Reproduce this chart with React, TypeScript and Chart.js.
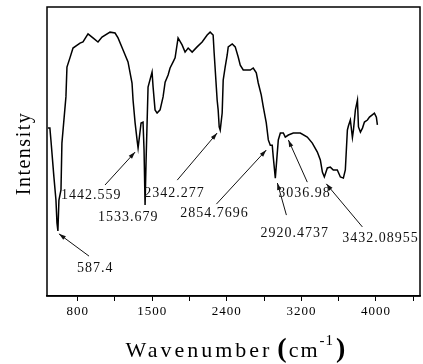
import React, { useEffect, useRef } from "react";
import { Chart, registerables } from "chart.js";
Chart.register(...registerables);

const WAVENUMBER = [481,502,513,545,567,578,588,599,621,631,674,685,717,750,825,857,911,964,1018,1061,1147,1201,1233,1287,1340,1383,1394,1416,1437,1448,1480,1501,1512,1523,1534,1555,1598,1609,1630,1652,1684,1716,1738,1770,1791,1824,1845,1877,1920,1952,1985,2028,2081,2135,2189,2221,2253,2264,2296,2307,2318,2329,2350,2361,2382,2404,2415,2458,2490,2522,2544,2576,2651,2683,2716,2737,2769,2791,2823,2845,2866,2887,2898,2920,2952,2974,3006,3027,3060,3113,3188,3263,3317,3371,3403,3425,3446,3478,3510,3542,3585,3618,3650,3671,3682,3693,3704,3725,3747,3758,3779,3801,3812,3833,3855,3876,3908,3930,3983,4004,4015];
const INTENSITY = [58.1,58.1,54.0,41.2,33.2,25.3,22.5,33.2,36.7,52.9,68.9,79.2,82.4,85.8,87.5,87.9,90.7,89.3,87.9,89.6,91.3,91.0,89.3,85.1,81.0,73.7,67.8,59.9,54.0,51.2,59.9,60.2,50.5,31.5,47.1,72.3,77.5,72.3,64.4,63.3,64.4,68.9,74.0,76.5,78.9,81.0,82.4,89.3,86.9,84.4,85.8,84.4,86.2,87.9,90.3,91.3,90.3,84.1,67.8,64.4,58.5,57.4,63.3,74.7,79.2,83.4,86.2,87.2,86.2,82.7,79.9,78.2,78.2,78.9,77.2,73.7,69.6,65.4,59.9,54.0,52.2,52.2,48.1,40.8,54.0,56.4,56.4,55.0,55.7,56.4,56.4,55.0,52.9,49.8,47.1,42.9,41.2,44.3,44.6,43.6,43.6,41.2,40.8,43.6,50.5,57.4,58.8,60.9,54.8,57.4,64.4,67.8,58.5,56.7,58.1,60.2,60.9,61.9,63.3,61.9,59.2];

const X_MIN = 471;
const X_MAX = 4472;
const TICK_VALUES = [800, 1200, 1600, 2000, 2400, 2800, 3200, 3600, 4000, 4400];
const TICK_LABELS = ["800", "", "1500", "", "2400", "", "3200", "", "4000", ""];

const PEAK_LABELS = ["587.4", "1442.559", "1533.679", "2342.277", "2854.7696", "2920.4737", "3036.98", "3432.08955"];
const LABEL_X = [792, 621, 1018, 1513, 1901, 2760, 2952, 3639];
const LABEL_Y = [9.7, 34.9, 27.3, 35.6, 28.7, 21.8, 35.6, 20.1];
const LEADER_FROM_X = [922, 1093, null, 1868, 2288, 3039, 3263, 3854];
const LEADER_FROM_Y = [13.8, 38.4, null, 40.1, 31.8, 28.0, 39.4, 23.9];
const LEADER_TO_X = [599, 1416, null, 2296, 2823, 2942, 3060, 3467];
const LEADER_TO_Y = [21.5, 49.8, null, 56.4, 50.5, 39.1, 54.0, 38.8];

const X_TITLE = "Wavenumber";
const X_UNIT = "cm";
const X_UNIT_EXP = "-1";
const Y_TITLE = "Intensity";

const SERIF = "'Liberation Serif', 'Times New Roman', serif";

const overlay = {
  id: "overlay",
  beforeDraw(chart: any) {
    chart.ctx.letterSpacing = "1px";
  },
  afterDraw(chart: any) {
    const { ctx, chartArea: a, scales } = chart;
    const xs = scales.x;
    const ys = scales.y;
    ctx.save();
    // frame
    ctx.strokeStyle = "#000";
    ctx.lineWidth = 1.5;
    ctx.strokeRect(a.left, a.top, a.right - a.left, a.bottom - a.top);

    // leaders
    ctx.lineWidth = 1;
    ctx.strokeStyle = "#111";
    ctx.fillStyle = "#111";
    for (let i = 0; i < PEAK_LABELS.length; i++) {
      if (LEADER_FROM_X[i] == null) continue;
      const sx = xs.getPixelForValue(LEADER_FROM_X[i] as number);
      const sy = ys.getPixelForValue(LEADER_FROM_Y[i] as number);
      const tx = xs.getPixelForValue(LEADER_TO_X[i] as number);
      const ty = ys.getPixelForValue(LEADER_TO_Y[i] as number);
      ctx.beginPath();
      ctx.moveTo(sx, sy);
      ctx.lineTo(tx, ty);
      ctx.stroke();
      const ang = Math.atan2(ty - sy, tx - sx);
      const L = 7, W = 2.2;
      ctx.beginPath();
      ctx.moveTo(tx, ty);
      ctx.lineTo(tx - L * Math.cos(ang) + W * Math.sin(ang), ty - L * Math.sin(ang) - W * Math.cos(ang));
      ctx.lineTo(tx - L * Math.cos(ang) - W * Math.sin(ang), ty - L * Math.sin(ang) + W * Math.cos(ang));
      ctx.closePath();
      ctx.fill();
    }
    // labels
    ctx.font = `14px ${SERIF}`;
    ctx.letterSpacing = "1px";
    ctx.textAlign = "left";
    ctx.textBaseline = "middle";
    ctx.fillStyle = "#111";
    for (let i = 0; i < PEAK_LABELS.length; i++) {
      ctx.fillText(PEAK_LABELS[i], xs.getPixelForValue(LABEL_X[i]), ys.getPixelForValue(LABEL_Y[i]));
    }

    // x title
    ctx.fillStyle = "#000";
    ctx.textBaseline = "alphabetic";
    const segs = [
      { text: X_TITLE, font: `22px ${SERIF}`, ls: "3px", gap: 5, rise: 0 },
      { text: "(", font: `bold 28px ${SERIF}`, ls: "0px", gap: 2, rise: 0 },
      { text: X_UNIT, font: `22px ${SERIF}`, ls: "2px", gap: 0, rise: 0 },
      { text: X_UNIT_EXP, font: `15px ${SERIF}`, ls: "1px", gap: 2, rise: 12 },
      { text: ")", font: `bold 28px ${SERIF}`, ls: "0px", gap: 0, rise: 0 },
    ];
    let total = 0;
    const widths = segs.map((s) => {
      ctx.font = s.font;
      ctx.letterSpacing = s.ls;
      const w = ctx.measureText(s.text).width;
      total += w + s.gap;
      return w;
    });
    let x = (a.left + a.right) / 2 + 2 - total / 2;
    const base = a.bottom + 61;
    segs.forEach((s, i) => {
      ctx.font = s.font;
      ctx.letterSpacing = s.ls;
      ctx.fillText(s.text, x, base - s.rise);
      x += widths[i] + s.gap;
    });

    // y title
    ctx.save();
    ctx.translate(a.left - 17, (a.top + a.bottom) / 2 + 2);
    ctx.rotate(-Math.PI / 2);
    ctx.font = `20px ${SERIF}`;
    ctx.letterSpacing = "1.5px";
    ctx.textAlign = "center";
    ctx.textBaseline = "alphabetic";
    ctx.fillText(Y_TITLE, 0, 0);
    ctx.restore();

    ctx.restore();
  },
};

export default function App() {
  const ref = useRef<HTMLCanvasElement>(null);
  useEffect(() => {
    const canvas = ref.current as HTMLCanvasElement;
    const points = WAVENUMBER.map((w, i) => ({ x: w, y: INTENSITY[i] }));
    const chart = new Chart(canvas, {
      type: "line",
      data: {
        datasets: [
          {
            data: points,
            borderColor: "#000",
            borderWidth: 1.5,
            pointRadius: 0,
            tension: 0,
            fill: false,
          },
        ],
      },
      options: {
        animation: false,
        responsive: false,
        devicePixelRatio: 1,
        layout: { padding: { left: 0, top: 7, right: 3, bottom: 0 } },
        plugins: { legend: { display: false }, tooltip: { enabled: false } },
        scales: {
          x: {
            type: "linear",
            position: "bottom",
            min: X_MIN,
            max: X_MAX,
            afterBuildTicks: (scale: any) => {
              scale.ticks = TICK_VALUES.map((v) => ({ value: v }));
            },
            afterFit: (scale: any) => {
              scale.height = 68;
            },
            ticks: {
              autoSkip: false,
              maxRotation: 0,
              padding: 3,
              color: "#000",
              font: { family: SERIF, size: 13 },
              callback: (_v: any, i: number) => TICK_LABELS[i],
            },
            grid: {
              display: true,
              drawOnChartArea: false,
              drawTicks: true,
              tickLength: 5,
              color: "#000",
              lineWidth: 1,
            },
            border: { display: true, color: "#000", width: 1.5 },
          },
          y: {
            type: "linear",
            min: 0,
            max: 100,
            afterFit: (scale: any) => {
              scale.width = 47;
            },
            ticks: { display: false },
            grid: { display: false },
            border: { display: false },
          },
        },
      },
      plugins: [overlay],
    } as any);
    return () => chart.destroy();
  }, []);
  return (
    <div style={{ position: "absolute", left: 0, top: 0, width: 423, height: 364, background: "#fff" }}>
      <canvas ref={ref} width={423} height={364} style={{ width: 423, height: 364, display: "block" }} />
    </div>
  );
}
